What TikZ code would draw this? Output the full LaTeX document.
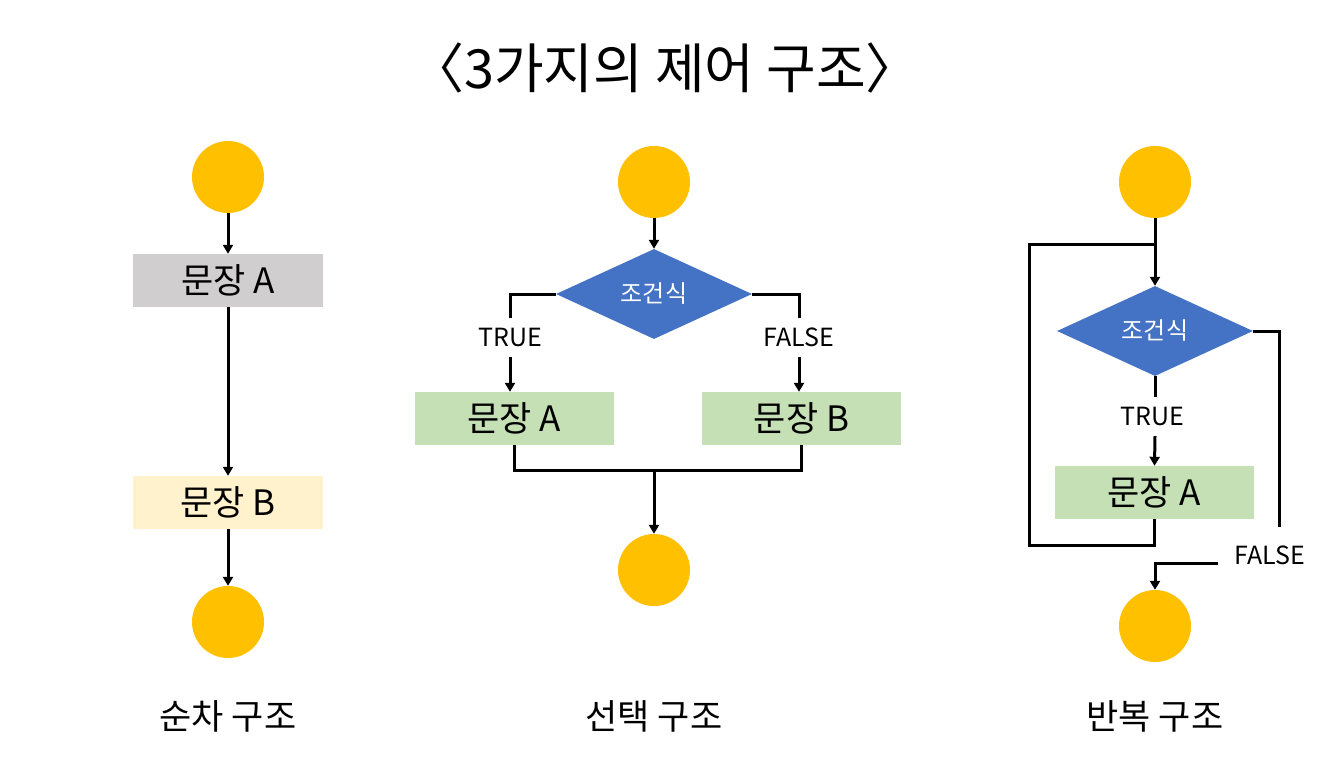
\documentclass[tikz,border=0pt]{standalone}
\usepackage{fontspec}
\setmainfont{Noto Sans CJK KR}
\usetikzlibrary{arrows.meta,shapes.geometric,calc}
\definecolor{cgold}{HTML}{FFC000}
\definecolor{cgray}{HTML}{D0CECE}
\definecolor{cyel}{HTML}{FFF2CC}
\definecolor{cgreen}{HTML}{C5E0B4}
\definecolor{cblue}{HTML}{4472C4}
\tikzset{
  term/.style={circle,fill=cgold,minimum size=72pt,inner sep=0pt},
  stmt/.style={rectangle,minimum width=190pt,minimum height=53pt,inner sep=0pt,font=\fontsize{35}{40}\selectfont},
  wide/.style={stmt,minimum width=199pt},
  cond/.style={diamond,fill=cblue,aspect=2.18,minimum width=196pt,minimum height=90pt,inner sep=0pt,text=white,font=\fontsize{24}{28}\selectfont},
  lbl/.style={inner sep=0pt,minimum height=39pt,font=\fontsize{25}{29}\selectfont},
  captionlbl/.style={inner sep=0pt,font=\fontsize{35}{40}\selectfont},
  conn/.style={line width=3pt},
  arr/.style={conn,-{Triangle[length=9pt,width=10pt]}}
}
\begin{document}
\begin{tikzpicture}[x=1pt,y=-1pt]
\useasboundingbox (0,0) rectangle (1334,757);
\node[inner sep=0pt,font=\fontsize{54}{60}\selectfont] (title) at (665,68) {〈3가지의 제어 구조〉};
% sequence
\node[term] (s0) at (228,177) {};
\node[stmt,fill=cgray] (sa) at (228,280.5) {문장 A};
\node[stmt,fill=cyel] (sb) at (228,502.5) {문장 B};
\node[term] (s1) at (228,622) {};
\draw[arr] (s0) -- (sa);
\draw[arr] (sa) -- (sb);
\draw[arr] (sb) -- (s1);
\node[captionlbl] (c1) at (228,716) {순차 구조};
% selection
\node[term] (p0) at (654,182) {};
\node[cond] (pd) at (654,294) {조건식};
\node[lbl] (pt) at (510,337.5) {TRUE};
\node[lbl] (pf) at (799,337.5) {FALSE};
\node[wide,fill=cgreen] (pa) at (514.5,418.5) {문장 A};
\node[wide,fill=cgreen] (pb) at (801.5,418.5) {문장 B};
\node[term] (p1) at (654,570) {};
\coordinate (pj) at (654,470);
\draw[arr] (p0) -- (pd);
\draw[conn] (pd.west) -| (pt.north);
\draw[arr] (pt.south) -- (pt.south |- pa.north);
\draw[conn] (pd.east) -| (pf.north);
\draw[arr] (pf.south) -- (pf.south |- pb.north);
\draw[conn] (pa.south) |- (pj) -| (pb.south);
\draw[arr] (pj) -- (p1);
\node[captionlbl] (c2) at (654,716) {선택 구조};
% repetition
\node[term] (r0) at (1155,182) {};
\node[cond] (rd) at (1155,331) {조건식};
\node[lbl] (rt) at (1152,416.5) {TRUE};
\node[wide,fill=cgreen] (ra) at (1154.5,492.5) {문장 A};
\node[lbl] (rf) at (1270,555) {FALSE};
\node[term] (r1) at (1155,626) {};
\coordinate (rm) at (1155,244);
\coordinate (rl) at (1029,545);
\coordinate (fe) at (1279,527);
\coordinate (fw) at (1218,563);
\draw[arr] (r0) -- (rd);
\draw[conn] (ra.south) |- (rl) |- (rm);
\draw[conn] (rd.south) -- (rd.south |- rt.north);
\draw[arr] (rd.south |- rt.south) -- (ra.north);
\draw[conn] (rd.east) -| (fe);
\draw[arr] (fw) -| (r1.north);
\node[captionlbl] (c3) at (1155,716) {반복 구조};
\end{tikzpicture}
\end{document}
